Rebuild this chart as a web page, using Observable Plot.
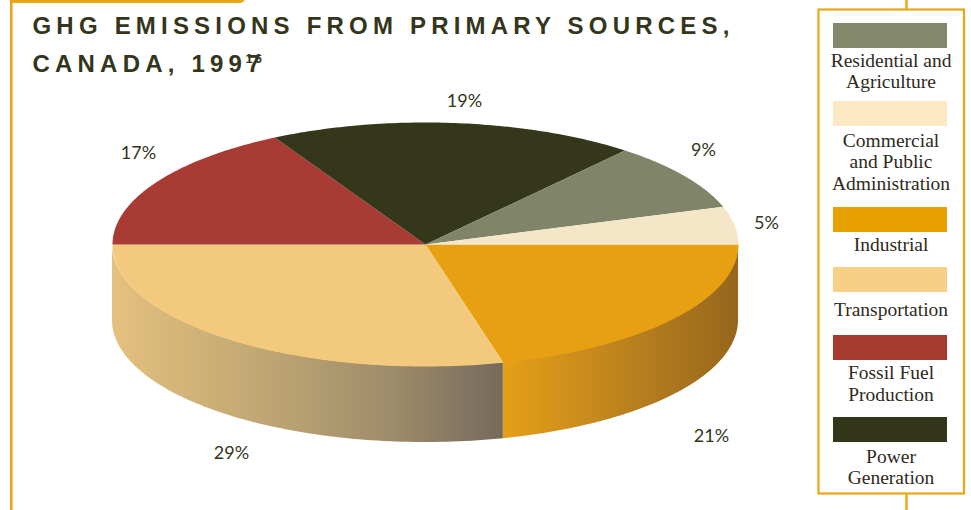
<!DOCTYPE html>
<html>
<head>
<meta charset="utf-8">
<script src="https://cdn.jsdelivr.net/npm/d3@7"></script>
<script src="https://cdn.jsdelivr.net/npm/@observablehq/plot@0.6"></script>
<style>
  html, body { margin: 0; padding: 0; background: #fff; }
  svg { display: block; }
</style>
</head>
<body>
<div id="chart"></div>
<script>
// GHG emissions by primary source, in pie order (clockwise from due east).
const categories = ["Industrial", "Transportation", "Fossil Fuel Production", "Power Generation", "Residential and Agriculture", "Commercial and Public Administration"];
const shares = [21, 29, 17, 19, 9, 5];
const faceColors = ["#e6a011", "#f3ca7d", "#a83c34", "#35371a", "#80856a", "#f4e6c6"];

// Legend entries, top to bottom.
const legendNames = ["Residential and\nAgriculture", "Commercial\nand Public\nAdministration", "Industrial", "Transportation", "Fossil Fuel\nProduction", "Power\nGeneration"];
const legendColors = ["#84886a", "#fde8c4", "#e8a000", "#f9cf85", "#a63a2e", "#33361a"];

// Page layout.
const W = 971, H = 510;
const pie = {cx: 425, cy: 244, rx: 313, ry: 122, depth: 76};
const accent = "#e9a713";
const ink = "#33361a";
const legendInk = "#2e2a1c";
const swatchTops = [23, 101, 207, 267, 335, 417];
const legendTextY = [70, 161, 244, 309, 382.5, 466];
const labelSpots = [[711, 436], [231, 453], [138, 153], [464, 101], [703, 150], [766, 223]];

// Cumulative sweep of each slice, in radians clockwise on screen.
let running = 0;
const slices = categories.map((name, i) => {
  const start = running / 100 * 2 * Math.PI;
  running += shares[i];
  return {name, share: shares[i], color: faceColors[i], start, end: running / 100 * 2 * Math.PI, label: labelSpots[i]};
});

const rimPoint = (a) => [pie.cx + pie.rx * Math.cos(a), pie.cy + pie.ry * Math.sin(a)];
const sweep = (a0, a1, n = 90) => d3.range(n + 1).map((k) => a0 + (a1 - a0) * k / n);

// Top face of each slice as a closed outline.
const facePoints = slices.flatMap((s) => [
  {name: s.name, color: s.color, p: [pie.cx, pie.cy]},
  ...sweep(s.start, s.end).map((a) => ({name: s.name, color: s.color, p: rimPoint(a)})),
  {name: s.name, color: s.color, p: [pie.cx, pie.cy]}
]);

// Front wall of the disc: only the part of each slice facing the viewer.
const wall = (s) => sweep(s.start, Math.min(s.end, Math.PI)).map(rimPoint);

const gradient = (id, stops) => () => {
  const svgNS = "http://www.w3.org/2000/svg";
  const defs = document.createElementNS(svgNS, "defs");
  const g = document.createElementNS(svgNS, "linearGradient");
  g.setAttribute("id", id);
  stops.forEach(([o, c]) => {
    const st = document.createElementNS(svgNS, "stop");
    st.setAttribute("offset", o);
    st.setAttribute("stop-color", c);
    g.appendChild(st);
  });
  defs.appendChild(g);
  return defs;
};

// Extra text styling that the text mark has no option for.
const spaced = (amount) => (index, scales, values, dims, ctx, next) => {
  const g = next(index, scales, values, dims, ctx);
  g.style.letterSpacing = amount;
  return g;
};

const wallMark = (s, fill) => Plot.areaY(wall(s), {
  x: (d) => d[0], y1: (d) => d[1], y2: (d) => d[1] + pie.depth, fill
});

const titleFont = {fontFamily: "'Liberation Sans Narrow', 'Liberation Sans', sans-serif", fontWeight: 700, fill: ink, textAnchor: "start", lineAnchor: "bottom"};

const chart = Plot.plot({
  width: W,
  height: H,
  margin: 0,
  x: {type: "linear", domain: [0, W], range: [0, W], axis: null},
  y: {type: "linear", domain: [0, H], range: [0, H], axis: null},
  style: {background: "#fff"},
  marks: [
    gradient("wallIndustrial", [[0, "#e5a015"], [0.25, "#d2911b"], [0.6, "#b57d1e"], [1, "#96661d"]]),
    gradient("wallTransport", [[0, "#e4c17e"], [0.35, "#c3a974"], [0.7, "#a08d6b"], [1, "#756a5c"]]),

    // Page rules and legend frame
    Plot.rect([0], {x1: 9, x2: 245, y1: -10, y2: 3, fill: accent, rx: 5}),
    Plot.ruleX([10.8], {y1: 0, y2: H, stroke: accent, strokeWidth: 2.6}),
    Plot.ruleX([906], {y1: 0, y2: 9, stroke: accent, strokeWidth: 2.4}),
    Plot.ruleX([906], {y1: 493, y2: H, stroke: accent, strokeWidth: 2.4}),
    Plot.rect([0], {x1: 818.5, x2: 964, y1: 9.5, y2: 493.5, fill: "none", stroke: accent, strokeWidth: 2.2}),

    // Disc
    wallMark(slices[0], "url(#wallIndustrial)"),
    wallMark(slices[1], "url(#wallTransport)"),
    Plot.line(facePoints, {x: (d) => d.p[0], y: (d) => d.p[1], z: "name", fill: (d) => d.color, stroke: null, curve: "linear"}),

    // Percentages
    Plot.text(slices, {
      x: (d) => d.label[0], y: (d) => d.label[1], text: (d) => `${d.share}%`,
      fill: ink, fontSize: 18, fontFamily: "Lato, sans-serif"
    }),

    // Legend
    Plot.rect(legendColors, {
      x1: () => 833, x2: () => 947,
      y1: (d, i) => swatchTops[i], y2: (d, i) => swatchTops[i] + 25,
      fill: (d) => d
    }),
    Plot.text(legendNames, {
      x: () => 890.5, y: (d, i) => legendTextY[i], text: (d) => d,
      fontSize: 19.5, lineHeight: 1.1, fill: legendInk, fontFamily: "'Liberation Serif', serif"
    }),

    // Title
    Plot.text(["GHG EMISSIONS FROM PRIMARY SOURCES,"], {x: () => 32, y: () => 33, text: (d) => d, fontSize: 24, ...titleFont, render: spaced("5.2px")}),
    Plot.text(["CANADA, 1997"], {x: () => 32, y: () => 71, text: (d) => d, fontSize: 24, ...titleFont, render: spaced("5.2px")}),
    Plot.text(["16"], {x: () => 245, y: () => 62, text: (d) => d, fontSize: 13, ...titleFont, render: spaced("2px")})
  ]
});

document.getElementById("chart").appendChild(chart);
</script>
</body>
</html>
